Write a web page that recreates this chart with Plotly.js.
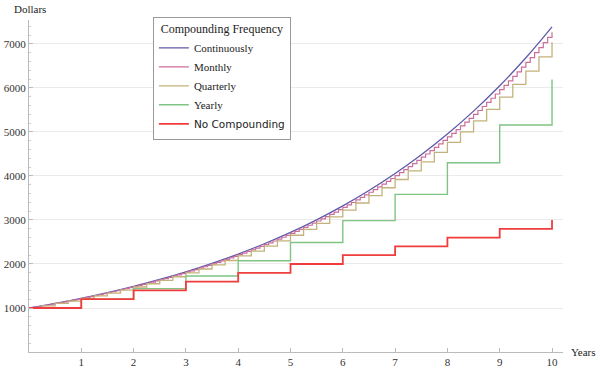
<!DOCTYPE html>
<html>
<head>
<meta charset="utf-8">
<script src="https://cdn.plot.ly/plotly-3.0.1.min.js"></script>
<style>html,body{margin:0;padding:0;background:#fff;}#chart{width:600px;height:374px;}</style>
</head>
<body>
<div id="chart"></div>
<script>
// Data (principal 1000, values in dollars)
const years = [0,1,2,3,4,5,6,7,8,9,10];
const halfYears = [0,0.5,1,1.5,2,2.5,3,3.5,4,4.5,5,5.5,6,6.5,7,7.5,8,8.5,9,9.5,10];
const continuousValues = [1000,1105,1221,1350,1492,1649,1822,2014,2226,2460,2718,3004,3320,3669,4055,4482,4953,5474,6050,6686,7389];
const monthlyValues = [
  1000,1017,1034,1051,1068,1086,1104,1123,1141,1160,1180,1199,
  1219,1240,1260,1281,1303,1324,1347,1369,1392,1415,1439,1463,
  1487,1512,1537,1562,1589,1615,1642,1669,1697,1725,1754,1783,
  1813,1843,1874,1905,1937,1969,2002,2036,2069,2104,2139,2175,
  2211,2248,2285,2323,2362,2401,2441,2482,2523,2566,2608,2652,
  2696,2741,2787,2833,2880,2928,2977,3027,3077,3128,3181,3234,
  3287,3342,3398,3455,3512,3571,3630,3691,3752,3815,3878,3943,
  4009,4075,4143,4212,4283,4354,4427,4500,4575,4652,4729,4808,
  4888,4970,5052,5137,5222,5309,5398,5488,5579,5672,5767,5863,
  5961,6060,6161,6264,6368,6474,6582,6692,6803,6917,7032,7149,
  7268];
const quarterlyValues = [1000,1050,1103,1158,1216,1276,1340,1407,1477,1551,1629,1710,1796,1886,1980,2079,2183,2292,2407,2527,2653,2786,2925,3072,3225,3386,3556,3733,3920,4116,4322,4538,4765,5003,5253,5516,5792,6081,6385,6705,7040];
const yearlyValues = [1000,1200,1440,1728,2074,2488,2986,3583,4300,5160,6192];
const simpleValues = [1000,1200,1400,1600,1800,2000,2200,2400,2600,2800,3000];
const seriesNames = ["Continuously","Monthly","Quarterly","Yearly","No Compounding"];
const yTickVals = [1000,2000,3000,4000,5000,6000,7000];
const xTickVals = [1,2,3,4,5,6,7,8,9,10];

const monthTimes = monthlyValues.map((v,i)=>i/12);
const quarterTimes = quarterlyValues.map((v,i)=>i/4);

const serif = "Liberation Serif, Times New Roman, serif";

const traces = [
  {x: halfYears, y: continuousValues, name: seriesNames[0], mode: 'lines',
   line: {color: '#5e58a8', width: 1.3, shape: 'spline'}},
  {x: monthTimes, y: monthlyValues, name: seriesNames[1], mode: 'lines',
   line: {color: '#cc6e9a', width: 1.2, shape: 'hv'}},
  {x: quarterTimes, y: quarterlyValues, name: seriesNames[2], mode: 'lines',
   line: {color: '#c4b27a', width: 1.3, shape: 'hv'}},
  {x: years, y: yearlyValues, name: seriesNames[3], mode: 'lines',
   line: {color: '#80c484', width: 1.4, shape: 'hv'}},
  {x: years, y: simpleValues, name: '<span style="font-family:DejaVu Sans;font-size:10.5px">' + seriesNames[4] + '</span>', mode: 'lines',
   line: {color: '#f03c3c', width: 1.8, shape: 'hv'}}
];

const layout = {
  width: 600, height: 374,
  margin: {l: 29, r: 37, t: 20, b: 22},
  paper_bgcolor: '#fff', plot_bgcolor: '#fff',
  font: {family: serif, size: 11, color: '#333'},
  showlegend: true,
  legend: {
    x: 0.232, y: 1.01, xanchor: 'left', yanchor: 'top',
    bgcolor: '#fff', bordercolor: '#999', borderwidth: 1,
    font: {family: serif, size: 11, color: '#222'},
    title: {text: 'Compounding Frequency', side: 'top center', font: {family: serif, size: 12, color: '#222'}},
    itemwidth: 30
  },
  xaxis: {
    range: [0, 10.21], showgrid: false, zeroline: false,
    showline: true, linecolor: '#bbb', linewidth: 1,
    tickvals: xTickVals, ticks: 'inside', ticklen: 4, tickcolor: '#bbb',
    tickfont: {family: serif, size: 11, color: '#333'}
  },
  yaxis: {
    range: [0, 7545], showgrid: true, gridcolor: '#ebebeb', zeroline: false,
    showline: true, linecolor: '#bbb', linewidth: 1,
    tickvals: yTickVals, ticks: 'inside', ticklen: 4, tickcolor: '#bbb',
    tickfont: {family: serif, size: 11, color: '#333'},
    minor: {dtick: 200, ticks: 'inside', ticklen: 2, tickcolor: '#ccc', showgrid: false}
  },
  annotations: [
    {text: 'Dollars', xref: 'paper', yref: 'paper', x: -0.032, y: 1.01, xanchor: 'left', yanchor: 'bottom',
     showarrow: false, font: {family: serif, size: 11, color: '#222'}},
    {text: 'Years', xref: 'paper', yref: 'paper', x: 1.0, y: 0, xanchor: 'left', yanchor: 'middle', xshift: 6,
     showarrow: false, font: {family: serif, size: 11, color: '#222'}}
  ]
};

Plotly.newPlot('chart', traces, layout, {displayModeBar: false, staticPlot: true});
</script>
</body>
</html>
